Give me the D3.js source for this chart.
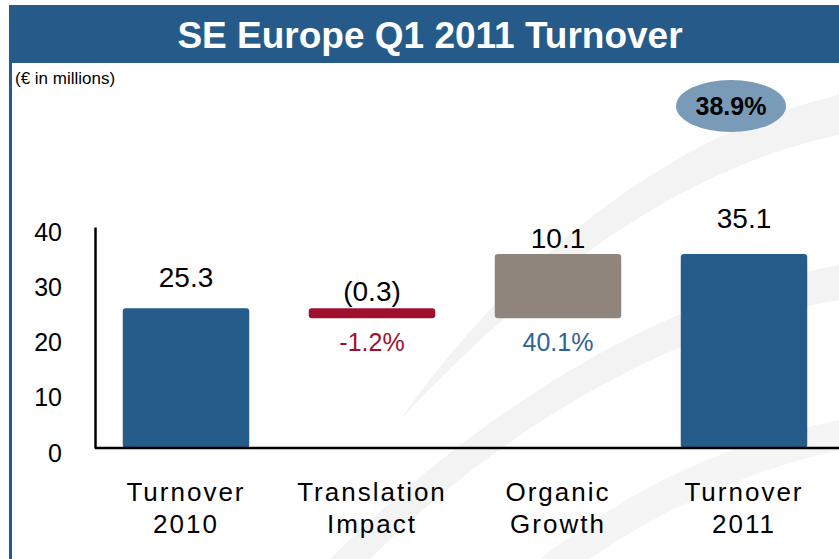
<!DOCTYPE html>
<html>
<head>
<meta charset="utf-8">
<script src="https://cdn.jsdelivr.net/npm/d3@7"></script>
<style>
  body { margin: 0; background: #fff; }
  svg { display: block; font-family: "Liberation Sans", Arial, sans-serif; }
</style>
</head>
<body>
<div id="chart"></div>
<script>
// data
const categories = [["Turnover", "2010"], ["Translation", "Impact"], ["Organic", "Growth"], ["Turnover", "2011"]];
const starts = [0, 25.3, 25.0, 0];        // bar bottoms (waterfall)
const ends = [25.3, 25.0, 35.1, 35.1];    // bar tops
const valueLabels = ["25.3", "(0.3)", "10.1", "35.1"];
const changeLabels = [null, "-1.2%", "40.1%", null];
const yTicks = [0, 10, 20, 30, 40];
const growthLabel = "38.9%";

const barColors = ["#255c8a", "#a0102e", "#8f857c", "#255c8a"];
const changeColors = [null, "#a0102e", "#2e6496", null];
const labelGap = [21, 7, 6, 26]; // distance of value label above bar top

const width = 839, height = 559;

const svg = d3.select("#chart").append("svg")
  .attr("width", width)
  .attr("height", height);

// background swooshes
const bg = svg.append("g").attr("fill", "#f3f3f3");
bg.append("path").attr("d", "M 400 420 C 520 250, 680 130, 839 95 L 839 135 C 690 165, 540 270, 400 420 Z");
bg.append("path").attr("d", "M 330 559 C 470 420, 650 300, 839 265 L 839 300 C 660 330, 490 440, 370 559 Z");
bg.append("path").attr("d", "M 540 559 C 640 480, 740 440, 839 420 L 839 450 C 750 470, 660 510, 590 559 Z").attr("fill", "#f5f5f5");

// title bar
svg.append("rect").attr("x", 9).attr("y", 5).attr("width", width - 9).attr("height", 58).attr("fill", "#265b89");
svg.append("line").attr("x1", 10.5).attr("x2", 10.5).attr("y1", 63).attr("y2", height)
  .attr("stroke", "#265b89").attr("stroke-width", 3);
svg.append("text").attr("x", 430).attr("y", 48).attr("text-anchor", "middle")
  .attr("fill", "#fff").attr("font-weight", "bold").attr("font-size", 37)
  .text("SE Europe Q1 2011 Turnover");
svg.append("text").attr("x", 15).attr("y", 84).attr("font-size", 17).attr("fill", "#000")
  .text("(€ in millions)");

// growth oval
svg.append("ellipse").attr("cx", 731).attr("cy", 106).attr("rx", 55).attr("ry", 26).attr("fill", "#7a9bb8");
svg.append("text").attr("x", 731).attr("y", 115).attr("text-anchor", "middle")
  .attr("font-weight", "bold").attr("font-size", 25).text(growthLabel);

// scales
const x = d3.scaleBand()
  .domain(d3.range(categories.length))
  .range([93, 837])
  .paddingInner(0.32)
  .paddingOuter(0.16);

const y = d3.scaleLinear().domain([0, 40]).range([448, 227]);

// y axis
const yAxis = svg.append("g")
  .attr("transform", "translate(95,0)")
  .call(d3.axisLeft(y).tickValues(yTicks).tickSize(0).tickPadding(33).tickFormat(d3.format("d")));
yAxis.select(".domain").attr("stroke", "#000").attr("stroke-width", 2.5);
yAxis.selectAll("text").attr("font-size", 25).attr("fill", "#000")
  .attr("font-family", "Liberation Sans, Arial, sans-serif")
  .attr("dy", "0.52em");

// bars
const minH = 10;
const bars = categories.map((c, i) => {
  const top = y(Math.max(starts[i], ends[i]));
  let bottom = y(Math.min(starts[i], ends[i]));
  if (bottom - top < minH) bottom = top + minH;
  return { i, top, bottom };
});
// organic growth starts where the translation bar ends visually
bars[2].bottom = Math.max(bars[2].bottom, bars[1].bottom);

svg.append("g").selectAll("rect").data(bars).join("rect")
  .attr("x", d => x(d.i))
  .attr("y", d => d.top)
  .attr("width", x.bandwidth())
  .attr("height", d => d.bottom - d.top)
  .attr("rx", 3)
  .attr("fill", d => barColors[d.i]);

// x axis line
svg.append("line").attr("x1", 95).attr("x2", width).attr("y1", y(0)).attr("y2", y(0))
  .attr("stroke", "#000").attr("stroke-width", 2.5);

// value labels
svg.append("g").selectAll("text").data(bars).join("text")
  .attr("x", d => x(d.i) + x.bandwidth() / 2)
  .attr("y", d => d.top - labelGap[d.i])
  .attr("text-anchor", "middle")
  .attr("font-size", 28)
  .attr("fill", "#000")
  .text(d => valueLabels[d.i]);

// change labels
svg.append("g").selectAll("text").data(bars.filter(d => changeLabels[d.i])).join("text")
  .attr("x", d => x(d.i) + x.bandwidth() / 2)
  .attr("y", d => d.bottom + 33)
  .attr("text-anchor", "middle")
  .attr("font-size", 25)
  .attr("fill", d => changeColors[d.i])
  .text(d => changeLabels[d.i]);

// category labels
const cat = svg.append("g").selectAll("text").data(categories).join("text")
  .attr("x", (d, i) => x(i) + x.bandwidth() / 2)
  .attr("y", 501)
  .attr("text-anchor", "middle")
  .attr("font-size", 26)
  .attr("letter-spacing", 2)
  .attr("fill", "#000");
cat.selectAll("tspan").data(d => d).join("tspan")
  .attr("x", function () { return this.parentNode.getAttribute("x"); })
  .attr("dy", (d, j) => j === 0 ? 0 : 32)
  .text(d => d);
</script>
</body>
</html>
